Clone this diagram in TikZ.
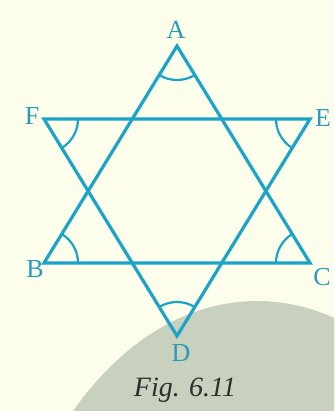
\documentclass[tikz,border=0pt]{standalone}
\usepackage{fontspec}
\setmainfont{Liberation Serif}
\usetikzlibrary{angles}
\definecolor{paper}{HTML}{FDFDEB}
\definecolor{discgray}{HTML}{C8D0BE}
\definecolor{starblue}{HTML}{1BA3C8}
\definecolor{labelblue}{HTML}{2A9BBB}
\definecolor{captiongray}{HTML}{2E2E2E}
\tikzset{
  side/.style={draw=starblue,line width=1.6pt,line join=miter},
  angmark/.style={draw=starblue,line width=1.1pt,angle radius=17pt},
  vlabel/.style={text=labelblue,inner sep=0pt,font=\fontsize{13}{15}\selectfont},
  figcap/.style={text=captiongray,inner sep=0pt,font=\fontsize{14}{16}\selectfont\itshape},
}

\begin{document}
\begin{tikzpicture}[x=0.5pt,y=0.5pt]
    % page and grey disc
    \useasboundingbox (0,0) rectangle (334,411);
    \fill[paper] (0,0) rectangle (334,411);
    \begin{scope}
      \clip (0,0) rectangle (334,411);
      \fill[discgray] (257,-290) ellipse [x radius=133.5pt,y radius=200pt];
    \end{scope}
    % vertices
    \coordinate (A) at (177,365);
    \coordinate (B) at (44,148);
    \coordinate (C) at (310,148);
    \coordinate (D) at (177,75);
    \coordinate (E) at (310,292);
    \coordinate (F) at (44,292);
    \draw[side] (A) -- (B) -- (C) -- cycle;
    \draw[side] (D) -- (E) -- (F) -- cycle;
    \foreach \p/\v/\q in {B/A/C, C/B/A, A/C/B, E/D/F, F/E/D, D/F/E}
      \pic[angmark] {angle=\p--\v--\q};
    \foreach \n/\x/\y in {A/176/381, B/35/142, C/322/134, D/181/58, E/323/293, F/32/295}
      \node[vlabel] (l\n) at (\x,\y) {\n};
    \node[figcap,anchor=base] (cap) at (185,14) {Fig. 6.11};
\end{tikzpicture}
\end{document}
